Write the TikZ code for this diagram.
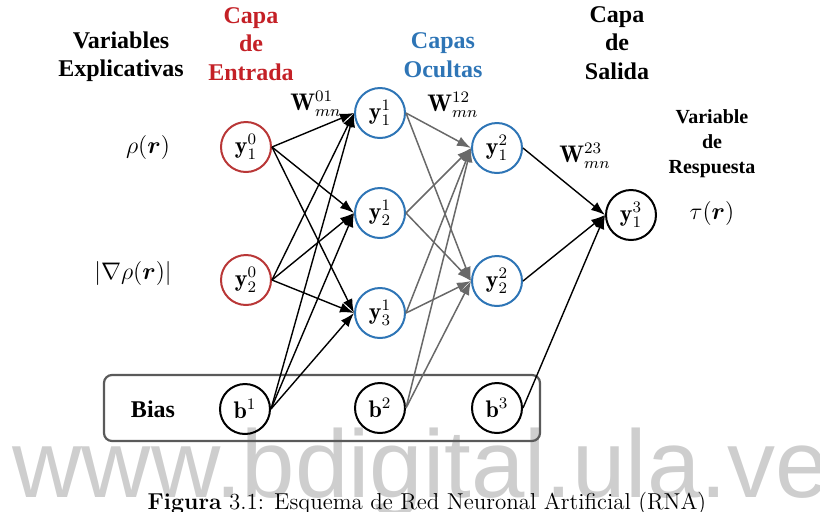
\documentclass[tikz,border=0pt]{standalone}
\usepackage{amsmath}
\usepackage{bm}
\usepackage{fontspec}
\newfontfamily\tnr{Liberation Serif}
\newfontfamily\wmfont{Liberation Sans}
\usetikzlibrary{arrows.meta}
\definecolor{capared}{RGB}{196,32,38}
\definecolor{capablue}{RGB}{46,117,182}
\definecolor{nred}{RGB}{185,55,55}
\definecolor{wire}{RGB}{105,105,105}
\definecolor{wmgray}{RGB}{206,206,206}
\definecolor{framegray}{RGB}{90,90,90}
\tikzset{
  neuron/.style={circle,draw,line width=1pt,minimum size=25pt,inner sep=0pt,font=\large},
  inneuron/.style={neuron,draw=nred},
  hidneuron/.style={neuron,draw=capablue},
  blkneuron/.style={neuron,draw=black},
  wblack/.style={-{Latex[length=7pt,width=5pt]},line width=0.7pt},
  wgray/.style={-{Latex[length=7pt,width=5pt]},line width=0.75pt,draw=wire,fill=wire},
  layertitle/.style={align=center,font=\tnr\bfseries\fontsize{12}{14.2}\selectfont},
  smalltitle/.style={align=center,font=\tnr\bfseries\fontsize{10}{12.5}\selectfont},
  biasframe/.style={draw=framegray,line width=1.1pt,rounded corners=4pt},
}
\begin{document}
\begin{tikzpicture}[x=0.5pt,y=-0.5pt]
\useasboundingbox (0,0) rectangle (820,511);
\node[anchor=base west,text=wmgray,font=\wmfont\fontsize{48}{48}\selectfont,inner sep=0pt] (wm) at (12,497) {www.bdigital.ula.ve}; % watermark
\draw[biasframe] (104,375) rectangle (540,441); % bias box
% layer titles
\node[layertitle] (vexp) at (121,57) {Variables\\Explicativas};
\node[layertitle,text=capared] (cin) at (251,44) {Capa\\de\\Entrada};
\node[layertitle,text=capablue] (chid) at (443,55) {Capas\\Ocultas};
\node[layertitle] (cout) at (617,43) {Capa\\de\\Salida};
\node[smalltitle] (vresp) at (712,144) {Variable\\de\\Respuesta};
% variables
\node[font=\large] (rho) at (148,147) {$\rho(\boldsymbol{r})$};
\node[font=\large] (grad) at (133,273) {$|\nabla\rho(\boldsymbol{r})|$};
\node[font=\large] (tau) at (712,213) {$\tau(\boldsymbol{r})$};
\node[layertitle] (bias) at (153,409) {Bias};
% weights
\node[font=\large] (w01) at (316,104) {$\mathbf{W}^{01}_{mn}$};
\node[font=\large] (w12) at (453,105) {$\mathbf{W}^{12}_{mn}$};
\node[font=\large] (w23) at (585,156) {$\mathbf{W}^{23}_{mn}$};
% neurons
\node[inneuron] (y01) at (246,147) {$\mathbf{y}^0_1$};
\node[inneuron] (y02) at (246,280) {$\mathbf{y}^0_2$};
\node[blkneuron] (b1) at (245,409) {$\mathbf{b}^1$};
\node[hidneuron] (y11) at (380,113) {$\mathbf{y}^1_1$};
\node[hidneuron] (y12) at (380,213) {$\mathbf{y}^1_2$};
\node[hidneuron] (y13) at (380,313) {$\mathbf{y}^1_3$};
\node[blkneuron] (b2) at (380,408) {$\mathbf{b}^2$};
\node[hidneuron] (y21) at (497,148) {$\mathbf{y}^2_1$};
\node[hidneuron] (y22) at (497,281) {$\mathbf{y}^2_2$};
\node[blkneuron] (b3) at (497,408) {$\mathbf{b}^3$};
\node[blkneuron] (y31) at (631,215) {$\mathbf{y}^3_1$};
% input -> hidden
\draw[wblack] (y01.east) -- (y11.west);
\draw[wblack] (y01.east) -- (y12.west);
\draw[wblack] (y01.east) -- (y13.west);
\draw[wblack] (y02.east) -- (y11.west);
\draw[wblack] (y02.east) -- (y12.west);
\draw[wblack] (y02.east) -- (y13.west);
\draw[wblack] (b1.east) -- (y11.west);
\draw[wblack] (b1.east) -- (y12.west);
\draw[wblack] (b1.east) -- (y13.west);
% hidden -> hidden
\draw[wgray] (y11.east) -- (y21.west);
\draw[wgray] (y11.east) -- (y22.west);
\draw[wgray] (y12.east) -- (y21.west);
\draw[wgray] (y12.east) -- (y22.west);
\draw[wgray] (y13.east) -- (y21.west);
\draw[wgray] (y13.east) -- (y22.west);
\draw[wgray] (b2.east) -- (y21.west);
\draw[wgray] (b2.east) -- (y22.west);
% hidden -> output
\draw[wblack] (y21.east) -- (y31.west);
\draw[wblack] (y22.east) -- (y31.west);
\draw[wblack] (b3.east) -- (y31.west);
% caption
\node[anchor=base,font=\fontsize{11.5}{13}\selectfont] (caption) at (427,509) {\textbf{Figura} 3.1: Esquema de Red Neuronal Artificial (RNA)};
\end{tikzpicture}
\end{document}
